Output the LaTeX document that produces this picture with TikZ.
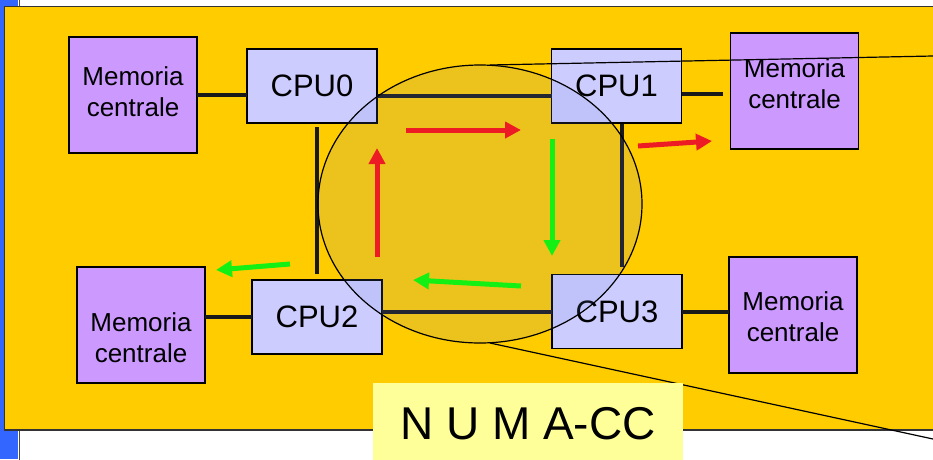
\documentclass[tikz,border=0pt]{standalone}
\usepackage{fontspec}
\setmainfont{Liberation Sans}
\usetikzlibrary{arrows.meta,shapes.geometric}

\definecolor{slideblue}{RGB}{51,102,255}
\definecolor{slideyellow}{RGB}{255,204,0}
\definecolor{memviolet}{RGB}{204,153,255}
\definecolor{cpulilac}{RGB}{204,204,255}
\definecolor{titleyellow}{RGB}{255,255,153}
\definecolor{ringfill}{RGB}{110,140,220}
\definecolor{flowred}{RGB}{237,28,36}
\definecolor{flowgreen}{RGB}{20,240,20}

\begin{document}
\begin{tikzpicture}[x=1pt,y=-1pt,every node/.style={outer sep=0pt, inner sep=0pt},
  mem/.style={draw, line width=1.5pt, fill=memviolet, minimum width=128pt, minimum height=116pt},
  memtext/.style={align=center, font=\fontsize{26}{31}\selectfont},
  cpu/.style={draw, line width=1.5pt, fill=cpulilac, minimum width=130pt, minimum height=74pt, font=\fontsize{31}{37}\selectfont},
  bus/.style={line width=4pt, black!90},
  flow/.style={line width=5pt, -{Triangle[length=16pt,width=16pt]}}]

\useasboundingbox (0,0) rectangle (933,459);
\fill[white] (0,0) rectangle (933,459);
\fill[slideblue] (0,0) rectangle (18,459);
\draw[black!70, line width=1pt, fill=white] (19.5,-5) rectangle (945,470);
\draw[black!80, line width=1.5pt, fill=slideyellow] (4.5,6.5) rectangle (945,430);

\node[mem] (mem0) at (133,95) {};
\node[mem] (mem1) at (794.5,91) {};
\node[mem] (mem2) at (141,325) {};
\node[mem] (mem3) at (793,315) {};
\node[memtext] (mem0txt) at ([yshift=3pt]mem0) {Memoria\\centrale};
\node[memtext] (mem1txt) at ([yshift=7pt]mem1) {Memoria\\centrale};
\node[memtext] (mem2txt) at ([yshift=-13pt]mem2) {Memoria\\centrale};
\node[memtext] (mem3txt) at ([yshift=-2pt]mem3) {Memoria\\centrale};

\node[cpu] (cpu0) at (312,86) {CPU0};
\node[cpu] (cpu1) at (616.5,86) {CPU1};
\node[cpu] (cpu2) at (317,317) {CPU2};
\node[cpu] (cpu3) at (617,311.5) {CPU3};

\draw[bus] (mem0.east) -- (mem0.east -| cpu0.west);
\draw[bus, shorten >=8pt] ([yshift=-8pt]cpu1.east) -- ([yshift=-8pt]cpu1.east -| mem1.west);
\draw[bus] (cpu2.west) -- (cpu2.west -| mem2.east);
\draw[bus] (cpu3.east) -- (cpu3.east -| mem3.west);
\draw[bus] ([yshift=-10pt]cpu0.east) -- ([yshift=-10pt]cpu1.west);
\draw[bus] (cpu3.west -| cpu2.east) -- (cpu3.west);
\draw[bus, shorten <=4pt, shorten >=6pt] (cpu2.north |- cpu0.south) -- (cpu2.north);
\draw[bus, shorten <=1pt, shorten >=8pt] ([xshift=5pt]cpu1.south) -- ([xshift=5pt]cpu1.south |- cpu3.north);

\node[ellipse, draw, line width=1.2pt, fill=ringfill, fill opacity=0.13,
  minimum width=324pt, minimum height=278pt] (ring) at (480,204) {};

\draw[flow, flowred] (406,130) -- (521,130);
\draw[flow, flowgreen] (552,139) -- (552,256);
\draw[flow, flowgreen] (521,286) -- (413,280);
\draw[flow, flowred] (377,257) -- (377,148);
\draw[flow, flowred] (638,146) -- (712,141);
\draw[flow, flowgreen] (290,264) -- (216,270);

\coordinate (zoomtop) at (933,56);
\coordinate (zoombot) at (933,439);
\draw[line width=1.2pt] ([xshift=10pt]ring.north) -- (zoomtop);
\draw[line width=1.2pt] ([xshift=10pt]ring.south) -- (zoombot);

\node[fill=titleyellow, minimum width=310pt, minimum height=81pt, anchor=north,
  font=\fontsize{46}{55}\selectfont] (numa) at (528,383) {N U M A-CC};
\end{tikzpicture}
\end{document}
